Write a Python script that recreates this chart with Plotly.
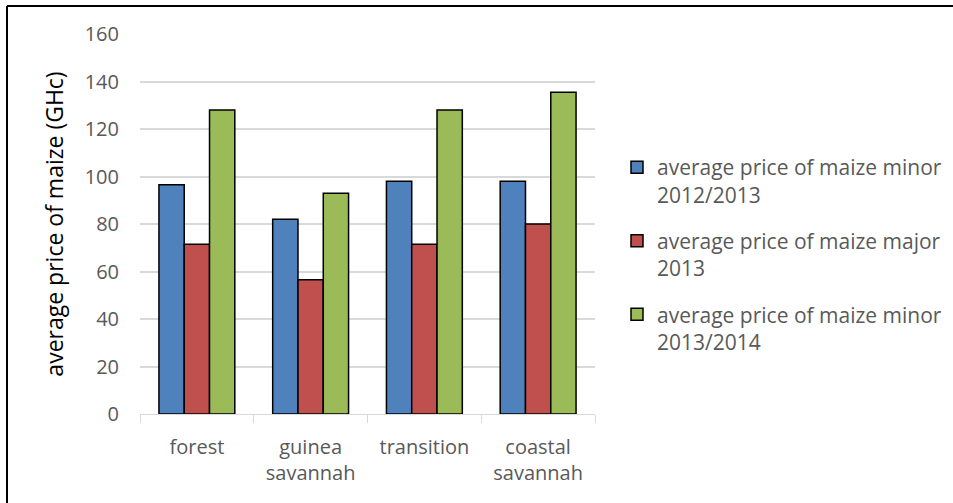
import plotly.graph_objects as go

zones = ["forest", "guinea<br>savannah", "transition", "coastal<br>savannah"]
minor_2012_2013 = [96.5, 82, 98, 98]
major_2013 = [71.5, 56.5, 71.5, 80]
minor_2013_2014 = [128, 93, 128, 135.5]

series_names = [
    "average price of maize minor<br>2012/2013",
    "average price of maize major<br>2013",
    "average price of maize minor<br>2013/2014",
]
series_values = [minor_2012_2013, major_2013, minor_2013_2014]
series_colors = ["#4F81BD", "#C0504D", "#9BBB59"]
y_ticks = [0, 20, 40, 60, 80, 100, 120, 140, 160]

FONT = "Open Sans"
GREY = "#595959"

fig = go.Figure()
for i, (name, vals, col) in enumerate(zip(series_names, series_values, series_colors)):
    fig.add_trace(go.Bar(
        x=zones, y=vals, name=name, legendgroup=str(i),
        marker=dict(color=col, line=dict(color="black", width=1.5)),
    ))

# plot area in pixels
L, R, T, B = 140, 358, 34, 89
W, H = 953, 503
pw, ph = W - L - R, H - T - B

def px_x(x):
    return (x - L) / pw

def px_y(y):
    return (H - B - y) / ph

fig.update_layout(
    width=W, height=H,
    margin=dict(l=L, r=R, t=T, b=B, autoexpand=False),
    paper_bgcolor="white", plot_bgcolor="white",
    barmode="group", bargap=0.333, bargroupgap=0,
    font=dict(family=FONT, color=GREY, size=20),
    legend=dict(
        x=px_x(617), y=px_y(147), xanchor="left", yanchor="top",
        font=dict(family=FONT, size=21, color=GREY),
        valign="top", tracegroupgap=16, itemwidth=30,
        bgcolor="rgba(0,0,0,0)",
    ),
    xaxis=dict(
        type="category", showgrid=False, showline=True, linecolor="#d9d9d9", linewidth=1,
        ticks="outside", tickson="boundaries", ticklen=8, tickcolor="#d9d9d9",
        ticklabelstandoff=15,
        tickfont=dict(family=FONT, size=20, color=GREY),
    ),
    yaxis=dict(
        range=[0, 160], tickvals=y_ticks, showgrid=True, gridcolor="#d9d9d9", gridwidth=1.5,
        zeroline=False, showline=False, ticks="",
        ticklabelstandoff=20,
        tickfont=dict(family=FONT, size=20, color=GREY),
        title=dict(text="average price of maize (GHc)", standoff=14,
                   font=dict(family=FONT, size=23, color="black")),
    ),
    shapes=[
        dict(type="line", xref="paper", yref="paper",
             x0=px_x(7), x1=px_x(W + 5), y0=px_y(6), y1=px_y(6),
             line=dict(color="black", width=2)),
        dict(type="line", xref="paper", yref="paper",
             x0=px_x(7), x1=px_x(7), y0=px_y(6), y1=px_y(H + 5),
             line=dict(color="black", width=2)),
    ],
)

fig.write_html("out.html")
